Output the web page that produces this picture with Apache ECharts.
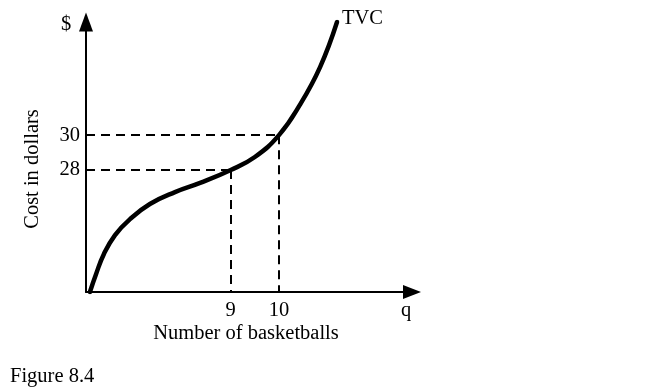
<!DOCTYPE html>
<html>
<head>
<meta charset="utf-8">
<script src="https://cdn.jsdelivr.net/npm/echarts@6/dist/echarts.min.js"></script>
<style>
  html, body { margin: 0; padding: 0; background: #fff; }
  #chart { width: 645px; height: 391px; }
</style>
</head>
<body>
<div id="chart"></div>
<script>
// Schematic axes: positions run 0–100 along each axis (the figure is not to scale).
const tvcQ    = [1.2, 3.1, 5.5, 8.9, 13.5, 19.6, 27.3, 35.0, 44.4, 51.8, 59.2, 65.6, 71.8, 77.0];
const tvcCost = [0, 6.7, 14.1, 21.1, 27.0, 32.6, 37.0, 40.4, 45.2, 50.0, 58.1, 69.3, 83.3, 100];

const qMarks      = [44.4, 59.2];
const qLabels     = ['9', '10'];
const costMarks   = [45.2, 58.1];
const costLabels  = ['28', '30'];

const seriesName = 'TVC';
const xTitle = 'Number of basketballs';
const yTitle = 'Cost in dollars';
const xUnit = 'q';
const yUnit = '$';
const caption = 'Figure 8.4';

const FONT = '"Liberation Serif", "Times New Roman", serif';
const FS = 20.5;

function nearestLabel(v, marks, labels) {
  let best = 0;
  for (let i = 1; i < marks.length; i++) {
    if (Math.abs(marks[i] - v) < Math.abs(marks[best] - v)) best = i;
  }
  return labels[best];
}

const guideLines = [];
for (let i = 0; i < qMarks.length; i++) {
  guideLines.push([{ coord: [0, costMarks[i]] }, { coord: [qMarks[i], costMarks[i]] }]);
  guideLines.push([{ coord: [qMarks[i], costMarks[i]] }, { coord: [qMarks[i], 0] }]);
}

const chart = echarts.init(document.getElementById('chart'), null, { renderer: 'canvas' });
chart.setOption({
  backgroundColor: '#ffffff',
  animation: false,
  textStyle: { fontFamily: FONT, color: '#000' },
  grid: { left: 86, right: 233, top: 22, bottom: 99, containLabel: false },
  xAxis: {
    type: 'value', min: 0, max: 100,
    axisLine: { show: true, onZero: false, symbol: ['none', 'triangle'], symbolSize: [14, 18],
      lineStyle: { color: '#000', width: 2 } },
    axisTick: { show: false },
    splitLine: { show: false },
    axisLabel: {
      customValues: qMarks, margin: 8, fontSize: FS, fontFamily: FONT, color: '#000',
      formatter: v => nearestLabel(v, qMarks, qLabels)
    }
  },
  yAxis: {
    type: 'value', min: 0, max: 100,
    axisLine: { show: true, onZero: false, symbol: ['none', 'triangle'], symbolSize: [14, 19],
      lineStyle: { color: '#000', width: 2 } },
    axisTick: { show: false },
    splitLine: { show: false },
    axisLabel: {
      customValues: costMarks, margin: 6, fontSize: FS, fontFamily: FONT, color: '#000',
      formatter: v => nearestLabel(v, costMarks, costLabels)
    }
  },
  series: [{
    name: seriesName,
    type: 'line',
    data: tvcQ.map((q, i) => [q, tvcCost[i]]),
    smooth: 0.45,
    showSymbol: false,
    lineStyle: { color: '#000', width: 4.5, cap: 'round' },
    endLabel: { show: true, formatter: seriesName, fontSize: FS, fontFamily: FONT, color: '#000',
      distance: 5, offset: [0, -3] },
    markLine: {
      silent: true, symbol: ['none', 'none'],
      label: { show: false },
      lineStyle: { color: '#000', width: 2, type: [9, 6] },
      data: guideLines
    }
  }],
  graphic: [
    { type: 'text', left: 61, top: 14, style: { text: yUnit, font: FS + 'px ' + FONT, fill: '#000' } },
    { type: 'text', left: 401, top: 300, style: { text: xUnit, font: FS + 'px ' + FONT, fill: '#000' } },
    { type: 'text', x: 246, y: 334, style: { text: xTitle, font: FS + 'px ' + FONT, fill: '#000', align: 'center', verticalAlign: 'middle' } },
    { type: 'text', x: 33, y: 169, rotation: Math.PI / 2, style: { text: yTitle, font: FS + 'px ' + FONT, fill: '#000', align: 'center', verticalAlign: 'middle' } },
    { type: 'text', left: 10, top: 366, style: { text: caption, font: FS + 'px ' + FONT, fill: '#000' } }
  ]
});
</script>
</body>
</html>
